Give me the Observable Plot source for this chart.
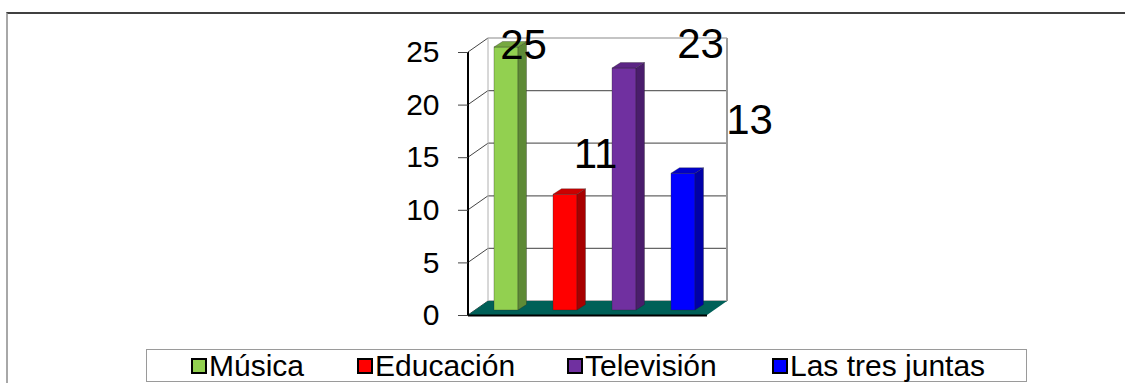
<!DOCTYPE html>
<html>
<head>
<meta charset="utf-8">
<script src="https://cdn.jsdelivr.net/npm/d3@7"></script>
<script src="https://cdn.jsdelivr.net/npm/@observablehq/plot@0.6"></script>
<style>
  body { margin: 0; background: #fff; font-family: "Liberation Sans", Arial, sans-serif; }
  #wrap { position: relative; width: 1125px; height: 383px; overflow: hidden; }
  #chart svg { display: block; }
  #frame { position: absolute; left: 6px; top: 12px; right: -4px; bottom: -4px;
           border-top: 2px solid #404040; border-left: 2px solid #a8a8a8; pointer-events: none; }
  #legend { position: absolute; left: 146px; top: 349px; width: 879px; height: 31px;
            border: 1px solid #9a9a9a; background: #fff; }
  .item { position: absolute; top: 0; height: 31px; display: flex; align-items: center;
          font-size: 30px; line-height: 1; color: #000; white-space: nowrap; }
  .sw { width: 12px; height: 12px; border: 2px solid #000; margin-right: 2px; flex: none; }
</style>
</head>
<body>
<div id="wrap">
  <div id="chart"></div>
  <div id="legend"></div>
  <div id="frame"></div>
</div>
<script>
// Series
const categories = ["Música", "Educación", "Televisión", "Las tres juntas"];
const values = [25, 11, 23, 13];
const yTicks = [0, 5, 10, 15, 20, 25];

// Face colours of each 3-D column: front, right side, top
const frontColors = ["#92D050", "#FF0000", "#7030A0", "#0000FF"];
const sideColors  = ["#5E8A36", "#A80000", "#4A1D6C", "#0000A8"];
const topColors   = ["#76A840", "#CC0000", "#5C2585", "#0000CC"];

// Where each value label sits relative to its column top (px)
const labelNudge = [[24, 6], [37, -32], [83, -16], [73, -45]];

// Legend item left offsets inside the legend box (px)
const legendLeft = [44, 210, 420, 625];

// Perspective: walls/floor depth, column set-back and column depth
const WALL_DX = 20, WALL_DY = -14;
const BAR_DX = 7, BAR_DY = -5;
const DEPTH_DX = 8.5, DEPTH_DY = -5.5;

const rows = categories.map((category, i) => ({
  category, value: values[i],
  front: frontColors[i], side: sideColors[i], top: topColors[i]
}));

// Back wall, side wall, floor and front axis line
function walls(index, {x, y}) {
  const g = d3.create("svg:g");
  const [x0, x1] = x.range();
  const y0 = y(0), yTop = y(d3.max(yTicks));
  const bx0 = x0 + WALL_DX, bx1 = x1 + WALL_DX;
  for (const t of yTicks) {
    const yy = y(t);
    g.append("line")
      .attr("x1", bx0).attr("x2", bx1)
      .attr("y1", yy + WALL_DY).attr("y2", yy + WALL_DY)
      .attr("stroke", t === d3.max(yTicks) ? "#8a8a8a" : "#666").attr("stroke-width", 1.2);
    g.append("line")
      .attr("x1", x0).attr("y1", yy)
      .attr("x2", bx0).attr("y2", yy + WALL_DY)
      .attr("stroke", "#444").attr("stroke-width", 1);
  }
  g.append("line")
    .attr("x1", bx0).attr("x2", bx0)
    .attr("y1", yTop + WALL_DY).attr("y2", y0 + WALL_DY)
    .attr("stroke", "#b0b0b0").attr("stroke-width", 1);
  g.append("line")
    .attr("x1", bx1).attr("x2", bx1)
    .attr("y1", yTop + WALL_DY).attr("y2", y0 + WALL_DY)
    .attr("stroke", "#9a9a9a").attr("stroke-width", 2);
  g.append("path")
    .attr("d", `M${x0},${y0}L${x1},${y0}L${bx1},${y0 + WALL_DY}L${bx0},${y0 + WALL_DY}Z`)
    .attr("fill", "#006058");
  g.append("line")
    .attr("x1", x0).attr("x2", x1).attr("y1", y0 + 0.5).attr("y2", y0 + 0.5)
    .attr("stroke", "#000").attr("stroke-width", 2);
  g.append("line")
    .attr("x1", x0).attr("x2", x0).attr("y1", yTop).attr("y2", y0 + 1)
    .attr("stroke", "#000").attr("stroke-width", 2);
  return g.node();
}

// Right side and top faces of each column
function columnFaces(index, {x, y}) {
  const g = d3.create("svg:g");
  const bw = x.bandwidth();
  for (const r of rows) {
    const xl = x(r.category) + BAR_DX, xr = xl + bw;
    const yt = y(r.value) + BAR_DY, yb = y(0) + BAR_DY;
    g.append("path")
      .attr("d", `M${xr},${yb}L${xr},${yt}L${xr + DEPTH_DX},${yt + DEPTH_DY}L${xr + DEPTH_DX},${yb + DEPTH_DY}Z`)
      .attr("fill", r.side).attr("stroke", "#222").attr("stroke-width", 0.5).attr("stroke-opacity", 0.6);
    g.append("path")
      .attr("d", `M${xl},${yt}L${xr},${yt}L${xr + DEPTH_DX},${yt + DEPTH_DY}L${xl + DEPTH_DX},${yt + DEPTH_DY}Z`)
      .attr("fill", r.top).attr("stroke", "#222").attr("stroke-width", 0.5).attr("stroke-opacity", 0.6);
  }
  return g.node();
}

const chart = Plot.plot({
  width: 1125,
  height: 345,
  marginLeft: 468,
  marginRight: 418,
  marginTop: 52,
  marginBottom: 30,
  style: {fontFamily: "'Liberation Sans', Arial, sans-serif", background: "transparent"},
  x: {domain: categories, paddingInner: 0.59, paddingOuter: 0.295, axis: null},
  y: {domain: [0, d3.max(yTicks)], nice: false},
  color: {type: "identity"},
  marks: [
    walls,
    Plot.axisY({ticks: yTicks, tickSize: 10, tickPadding: 19, fontSize: 30,
                stroke: "#444", fill: "#000", label: null}),
    Plot.barY(rows, {x: "category", y: "value", fill: "front", stroke: "#222",
                     strokeWidth: 0.5, strokeOpacity: 0.6, dx: BAR_DX, dy: BAR_DY}),
    columnFaces,
    ...rows.map((r, i) => Plot.text([r], {
      x: "category", y: "value", text: d => String(d.value),
      dx: labelNudge[i][0], dy: labelNudge[i][1],
      fontSize: 42, lineAnchor: "bottom", fill: "#000"
    }))
  ]
});
document.getElementById("chart").append(chart);

// Legend below the plot
const legend = d3.select("#legend");
rows.forEach((r, i) => {
  const item = legend.append("div").attr("class", "item").style("left", legendLeft[i] + "px");
  item.append("div").attr("class", "sw").style("background", r.front);
  item.append("span").text(r.category);
});
</script>
</body>
</html>
